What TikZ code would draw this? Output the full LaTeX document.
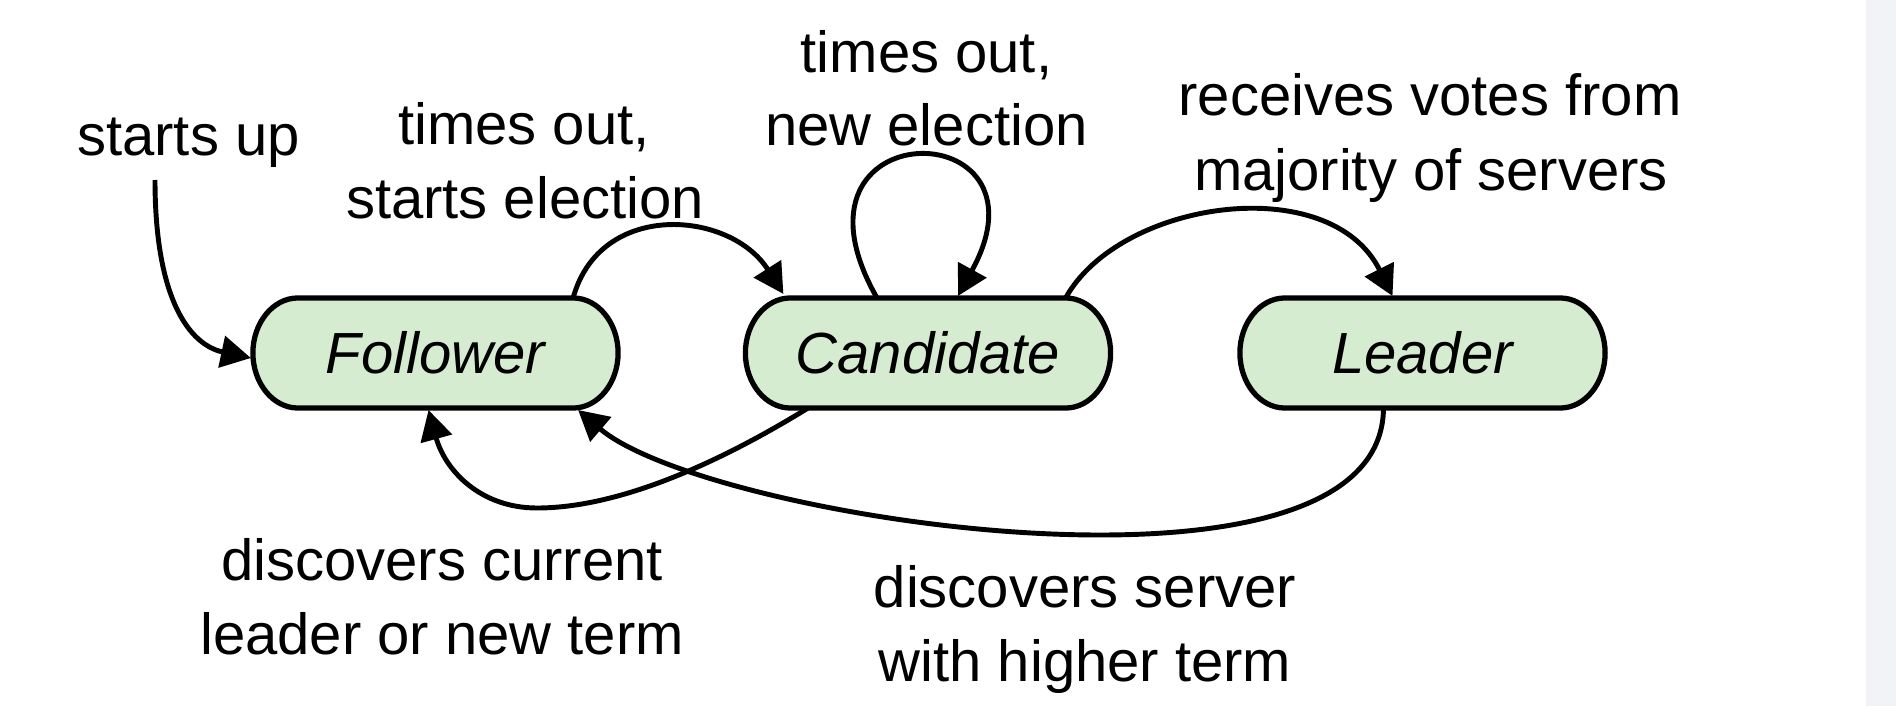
\documentclass[tikz,border=0pt]{standalone}
\usepackage{fontspec}
\setmainfont{Liberation Sans}
\usetikzlibrary{arrows.meta,calc}
\definecolor{nodefill}{RGB}{214,236,208}
\definecolor{stripgray}{RGB}{242,243,247}
\pgfdeclarelayer{background}
\pgfsetlayers{background,main}
\begin{document}
\begin{tikzpicture}[x=0.01cm,y=-0.01cm,
  state/.style={draw=none,outer sep=0pt,
    minimum width=3.65cm,minimum height=1.1cm,inner sep=0pt,
    font=\fontsize{16.5}{21}\selectfont\itshape},
  stateshape/.style={draw=black,line width=1.5pt,fill=nodefill,line join=round},
  lbl/.style={anchor=base,inner sep=0pt,font=\fontsize{16.5}{21}\selectfont},
  arr/.style={line width=1.4pt,-{Triangle[length=8.5pt,width=9pt]}}]
\useasboundingbox (0,0) rectangle (1896,706);
\fill[stripgray] (1866,0) rectangle (1896,706);

\node[state] (F) at (435.5,353) {Follower};
\node[state] (C) at (928,353) {Candidate};
\node[state] (L) at (1422.5,353) {Leader};

\begin{pgfonlayer}{background}
\foreach \n in {F,C,L}{
  \draw[stateshape] ($(\n.north west)+(45,0)$) -- ($(\n.north east)+(-45,0)$)
    .. controls ($(\n.north east)+(-20,0)$) and ($(\n.east)+(0,-30)$) .. (\n.east)
    .. controls ($(\n.east)+(0,30)$) and ($(\n.south east)+(-20,0)$) .. ($(\n.south east)+(-45,0)$)
    -- ($(\n.south west)+(45,0)$)
    .. controls ($(\n.south west)+(20,0)$) and ($(\n.west)+(0,30)$) .. (\n.west)
    .. controls ($(\n.west)+(0,-30)$) and ($(\n.north west)+(20,0)$) .. ($(\n.north west)+(45,0)$)
    -- cycle;
}
\end{pgfonlayer}

\node[lbl] (t1) at (188.5,155) {starts up};
\node[lbl] (t2a) at (524,144) {times out,};
\node[lbl] (t2b) at (525,218) {starts election};
\node[lbl] (t3a) at (926.5,72) {times out,};
\node[lbl] (t3b) at (926.5,146) {new election};
\node[lbl] (t4a) at (1430,115) {receives votes from};
\node[lbl] (t4b) at (1431,190) {majority of servers};
\node[lbl] (t5a) at (442,580) {discovers current};
\node[lbl] (t5b) at (442,654) {leader or new term};
\node[lbl] (t6a) at (1085,607) {discovers server};
\node[lbl] (t6b) at (1085,681) {with higher term};

\coordinate (S) at (155,180);
\draw[arr] (S) .. controls (155,300) and (190,345) .. ($(F.west)+(-2,5)$);
\draw[arr] ($(F.north east)+(-45,0)$) .. controls (600,200) and (730,210) .. ($(C.north west)+(38,-4)$);
\draw[arr] ($(C.north)+(-51,0)$) .. controls (770,110) and (1060,110) .. ($(C.north)+(30,-2)$);
\draw[arr] ($(C.north east)+(-45,0)$) .. controls (1120,200) and (1330,170) .. ($(L.north)+(-30,-2)$);
\draw[arr] ($(C.south)+(-120,0)$) .. controls (740,450) and (630,508) .. (537,508)
  .. controls (480,508) and (445,470) .. ($(F.south)+(-7,2)$);
\draw[arr] ($(L.south)+(-39,0)$) .. controls (1383,500) and (1260,535) .. (1100,535)
  .. controls (900,535) and (660,480) .. ($(F.south east)+(-40,2)$);
\end{tikzpicture}
\end{document}
